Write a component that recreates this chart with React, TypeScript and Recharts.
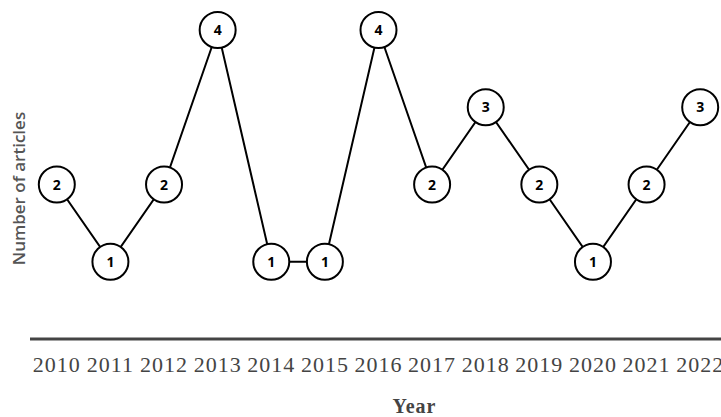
import React from 'react';
import { LineChart, Line, XAxis, YAxis } from 'recharts';

const years = [2010, 2011, 2012, 2013, 2014, 2015, 2016, 2017, 2018, 2019, 2020, 2021, 2022];
const articles = [2, 1, 2, 4, 1, 1, 4, 2, 3, 2, 1, 2, 3];

const data = years.map((year, i) => ({ year, articles: articles[i] }));

const CircleDot = (props: any) => {
  const { cx, cy, value, index } = props;
  if (cx == null || cy == null) return null;
  return (
    <g key={`dot-${index}`}>
      <circle cx={cx} cy={cy} r={18} fill="#fff" stroke="#000" strokeWidth={2} />
      <text
        x={cx}
        y={cy}
        dy={5}
        textAnchor="middle"
        fontFamily="'Open Sans', sans-serif"
        fontWeight={700}
        fontSize={14}
        fill="#000"
      >
        {value}
      </text>
    </g>
  );
};

const App = () => {
  return (
    <div style={{ position: 'absolute', left: 0, top: 0, width: 721, height: 417, overflow: 'hidden', background: '#fff' }}>
      <LineChart width={727} height={417} data={data} margin={{ top: 30, right: 0, bottom: 0, left: 0 }}>
        <XAxis
          dataKey="year"
          type="number"
          domain={[2009.5, 2022.5]}
          ticks={years}
          allowDataOverflow
          height={78}
          tickLine={false}
          tickSize={0}
          tickMargin={17}
          axisLine={{ stroke: '#444', strokeWidth: 3 }}
          tick={{ fontFamily: "'Liberation Serif', serif", fontSize: 22, fill: '#444', letterSpacing: 1 }}
          label={{
            value: 'Year',
            position: 'insideBottom',
            offset: 4,
            dx: 36,
            style: { fontFamily: "'Liberation Serif', serif", fontSize: 20, fontWeight: 700, fill: '#444', letterSpacing: 1 },
          }}
        />
        <YAxis
          domain={[0, 4]}
          width={30}
          tick={false}
          tickLine={false}
          axisLine={false}
          label={{
            value: 'Number of articles',
            angle: -90,
            position: 'center',
            dx: 4,
            dy: 4,
            style: { fontFamily: "'Open Sans', sans-serif", fontSize: 17, fontWeight: 600, fill: '#555', textAnchor: 'middle' },
          }}
        />
        <Line
          type="linear"
          dataKey="articles"
          stroke="#000"
          strokeWidth={2}
          dot={CircleDot}
          activeDot={false}
          isAnimationActive={false}
        />
      </LineChart>
    </div>
  );
};

export default App;
